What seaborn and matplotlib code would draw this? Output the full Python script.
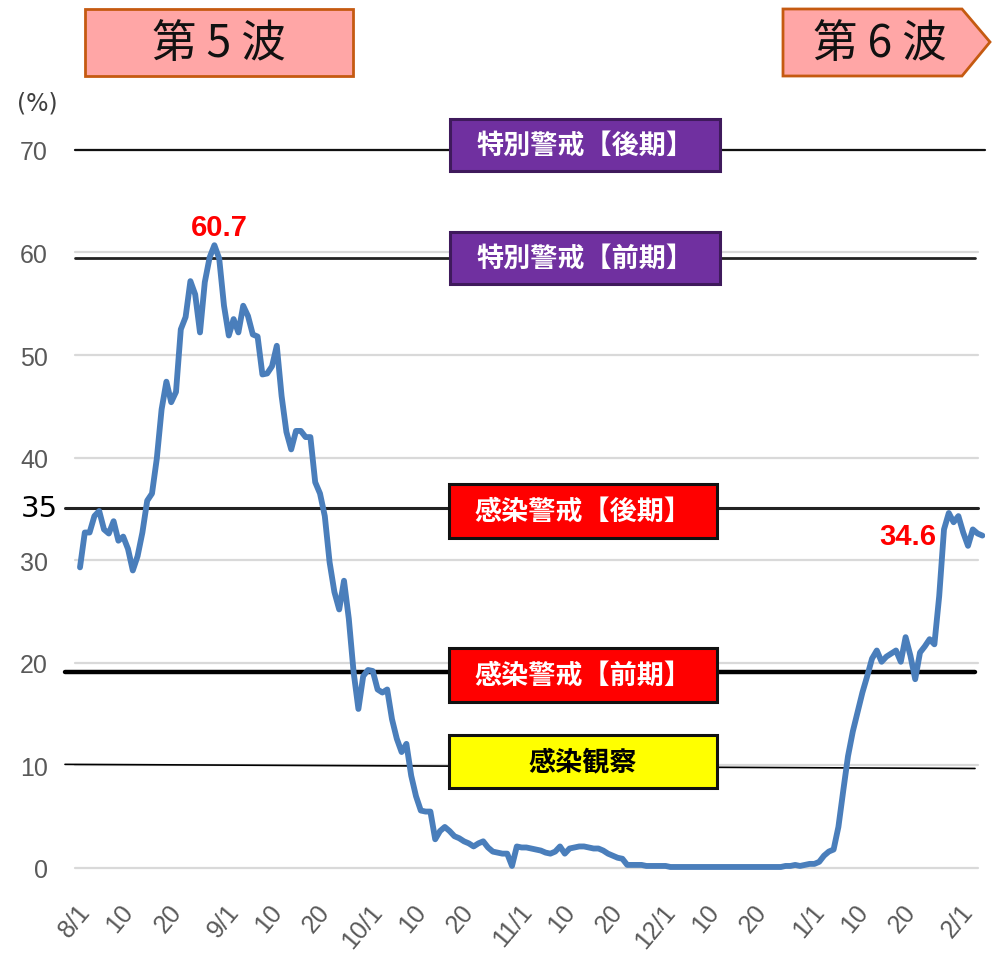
# 病床使用率の推移（第5波〜第6波）
import pandas as pd
import matplotlib
matplotlib.use("Agg")
import matplotlib.pyplot as plt
import matplotlib.transforms as mtrans
from matplotlib.patches import Rectangle, Polygon
import seaborn as sns

# daily values, 8/1 .. 2/5
aug = [29.3, 32.7, 32.7, 34.3, 34.8, 33.0, 32.6, 33.8, 31.9, 32.3, 31.1, 29.0, 30.4, 32.7, 35.8, 36.5,
       39.9, 44.7, 47.4, 45.4, 46.4, 52.5, 53.7, 57.2, 55.9, 52.2, 57.1, 59.5, 60.7, 59.4, 54.8]
sep = [51.9, 53.5, 52.2, 54.8, 53.8, 52.0, 51.8, 48.1, 48.2, 48.9, 50.9, 46.0, 42.5, 40.8, 42.6,
       42.6, 42.0, 42.0, 37.6, 36.5, 34.3, 29.8, 26.9, 25.2, 28.0, 24.3, 19.1, 15.5, 18.7, 19.3]
oct_ = [19.2, 17.4, 17.1, 17.4, 14.5, 12.6, 11.3, 12.1, 9.0, 7.0, 5.6, 5.5, 5.5, 2.8, 3.6, 4.0,
        3.6, 3.1, 2.9, 2.6, 2.4, 2.1, 2.4, 2.6, 2.0, 1.6, 1.5, 1.4, 1.4, 0.2, 2.1]
nov = [2.0, 2.0, 1.9, 1.8, 1.7, 1.5, 1.4, 1.6, 2.1, 1.4, 1.9, 2.0, 2.1, 2.1, 2.0, 1.9, 1.9, 1.7,
       1.4, 1.2, 1.0, 0.9, 0.3, 0.3, 0.3, 0.3, 0.2, 0.2, 0.2, 0.2]
dec = [0.2, 0.1, 0.1, 0.1, 0.1, 0.1, 0.1, 0.1, 0.1, 0.1, 0.1, 0.1, 0.1, 0.1, 0.1, 0.1, 0.1, 0.1,
       0.1, 0.1, 0.1, 0.1, 0.1, 0.1, 0.1, 0.2, 0.2, 0.3, 0.2, 0.3, 0.4]
jan = [0.4, 0.6, 1.2, 1.6, 1.8, 4.0, 7.5, 10.9, 13.3, 15.2, 17.1, 18.7, 20.4, 21.2, 20.1, 20.6,
       20.9, 21.2, 20.1, 22.5, 20.7, 18.4, 21.0, 21.6, 22.3, 21.8, 26.5, 33.0, 34.6, 33.7, 34.3]
feb = [32.7, 31.4, 33.0, 32.6, 32.4]

tick_days = [0, 9, 19, 31, 40, 50, 61, 70, 80, 92, 101, 111, 122, 131, 141, 153, 162, 172, 184]
tick_labels = ["8/1", "10", "20", "9/1", "10", "20", "10/1", "10", "20", "11/1", "10", "20",
               "12/1", "10", "20", "1/1", "10", "20", "2/1"]
y_ticks = [0, 10, 20, 30, 40, 50, 60, 70]

# 警戒ライン
levels = ["特別警戒【後期】", "特別警戒【前期】", "感染警戒【後期】", "感染警戒【前期】", "感染観察"]
level_values = [70, 59.5, 35.1, 19.1, 10.1]

values = aug + sep + oct_ + nov + dec + jan + feb
df = pd.DataFrame({"day": range(len(values)), "rate": values})

sns.set_style("white")
plt.rcParams["font.family"] = ["Noto Sans CJK JP", "DejaVu Sans"]

W, H = 993, 962
fig = plt.figure(figsize=(W / 100, H / 100), dpi=100)
ax = fig.add_axes([75 / W, 1 - 875 / H, (985 - 75) / W, (875 - 140) / H])


def dx(px):
    return (px - 80) / 4.8


def dy(py):
    return (869 - py) / 10.26


ax.set_xlim(dx(75), dx(985))
ax.set_ylim(dy(875), dy(140))
for s in ax.spines.values():
    s.set_visible(False)

# gridlines
for v in y_ticks:
    ax.plot([dx(75), dx(978)], [v, v], color="#D9D9D9", lw=1.6, zorder=1, clip_on=False)

# threshold lines
ax.plot([dx(75), dx(985)], [level_values[0]] * 2, color="#111111", lw=1.6, zorder=2, clip_on=False)
ax.plot([dx(75), dx(975)], [level_values[1]] * 2, color="#222222", lw=2.0, zorder=2, clip_on=False)
ax.plot([dx(65), dx(978)], [level_values[2]] * 2, color="#222222", lw=2.2, zorder=2, clip_on=False)
ax.plot([dx(65), dx(975)], [level_values[3]] * 2, color="#000000", lw=3.2, zorder=2, clip_on=False)
ax.plot([dx(65), dx(975)], [level_values[4], level_values[4] - 0.4], color="#000000", lw=1.2,
        zorder=2, clip_on=False)

sns.lineplot(data=df, x="day", y="rate", ax=ax, color="#4A7EBB", lw=4.2, zorder=3)
ax.set_xlabel("")
ax.set_ylabel("")

ax.set_yticks(y_ticks)
ax.set_yticklabels([str(v) for v in y_ticks], family="Liberation Sans", fontsize=18, color="#595959")
ax.tick_params(axis="y", length=0, pad=27 * 0.72)
ax.set_xticks([])

trans = mtrans.blended_transform_factory(ax.transData, ax.transAxes)
for d, lab in zip(tick_days, tick_labels):
    ax.text(d + 1.2, -0.045, lab, transform=trans, rotation=50, ha="right", va="center",
            rotation_mode="anchor", family="Liberation Sans", fontsize=18, color="#595959")

fig.text(58 / W, 1 - 509 / H, "35", ha="right", va="center", family="DejaVu Sans",
         fontsize=21, color="black")
fig.text(37 / W, 1 - 103 / H, "(%)", ha="center", va="center", family="DejaVu Sans",
         fontsize=17, color="#404040")

# peak labels
ax.text(dx(219), dy(228), "60.7", ha="center", va="center", color="red", fontsize=21,
        fontweight="bold", family="Liberation Sans")
ax.text(dx(908), dy(537), "34.6", ha="center", va="center", color="red", fontsize=21,
        fontweight="bold", family="Liberation Sans")


def fig_box(x0, y0, x1, y1, fc, ec, lw):
    r = Rectangle((x0 / W, 1 - y1 / H), (x1 - x0) / W, (y1 - y0) / H, transform=fig.transFigure,
                  facecolor=fc, edgecolor=ec, lw=lw, zorder=5)
    fig.add_artist(r)


boxes = [(450, 120, 720, 172, "#7030A0", "#3F1A5C", "white"),
         (450, 233, 720, 285, "#7030A0", "#3F1A5C", "white"),
         (449, 485, 717, 539, "#FF0000", "#111111", "white"),
         (449, 649, 717, 703, "#FF0000", "#111111", "white"),
         (449, 736, 717, 789, "#FFFF00", "#111111", "black")]
for lab, (x0, y0, x1, y1, fc, ec, tc) in zip(levels, boxes):
    fig_box(x0, y0, x1, y1, fc, ec, 2.2)
    fig.text((x0 + x1) / 2 / W, 1 - (y0 + y1) / 2 / H, lab, ha="center", va="center",
             color=tc, fontsize=19.5, fontweight="bold", zorder=6)

# wave labels
pink, brown = "#FFA6A6", "#C55A11"
fig_box(85, 10, 353, 77, pink, brown, 2.0)
fig.text(219 / W, 1 - 44 / H, "第 5 波", ha="center", va="center", fontsize=32, color="#111111",
         zorder=6)
pts = [(783, 10), (962, 10), (990, 43), (962, 77), (783, 77)]
arrow = Polygon([(x / W, 1 - y / H) for x, y in pts], closed=True, transform=fig.transFigure,
                facecolor=pink, edgecolor=brown, lw=2.0, zorder=5)
fig.add_artist(arrow)
fig.text(880 / W, 1 - 44 / H, "第 6 波", ha="center", va="center", fontsize=32, color="#111111",
         zorder=6)

fig.savefig("out.png", dpi=100)
